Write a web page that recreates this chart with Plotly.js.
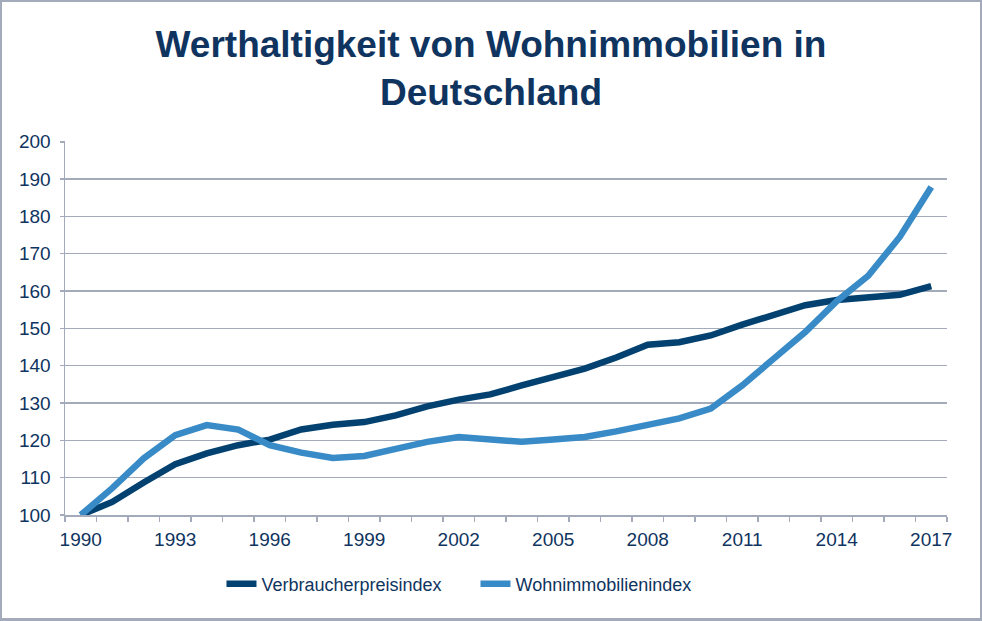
<!DOCTYPE html>
<html>
<head>
<meta charset="utf-8">
<script src="https://cdn.plot.ly/plotly-3.0.1.min.js"></script>
<style>
  html, body { margin: 0; padding: 0; background: #ffffff; }
  #frame { width: 982px; height: 621px; box-sizing: border-box; border: 2px solid #A3ABBA; border-bottom-width: 3px; }
  #chart { width: 978px; height: 616px; }
</style>
</head>
<body>
<div id="frame"><div id="chart"></div></div>
<script>
const years = [1990,1991,1992,1993,1994,1995,1996,1997,1998,1999,2000,2001,2002,2003,2004,2005,2006,2007,2008,2009,2010,2011,2012,2013,2014,2015,2016,2017];
const verbraucherpreisindex = [100,103.5,108.7,113.6,116.5,118.7,120.2,122.9,124.2,124.9,126.7,129.1,130.9,132.3,134.7,137.0,139.2,142.2,145.6,146.3,148.1,151.0,153.8,156.2,157.6,158.3,159.0,161.3];
const wohnimmobilienindex = [100,107.2,115.2,121.4,124.1,122.9,118.7,116.7,115.3,115.8,117.7,119.6,120.9,120.2,119.6,120.2,120.9,122.4,124.0,125.9,128.5,134.7,141.9,149.0,157.3,164.1,174.5,187.9];
const xTickYears = [1990,1993,1996,1999,2002,2005,2008,2011,2014,2017];
const yTicks = [100,110,120,130,140,150,160,170,180,190,200];
const seriesNames = ['Verbraucherpreisindex','Wohnimmobilienindex'];
const titleText = 'Werthaltigkeit von Wohnimmobilien in<br>Deutschland';

const navy = '#0F3460';
const grid = '#A3ABBA';

const traces = [
  { x: years, y: verbraucherpreisindex, name: seriesNames[0], type: 'scatter', mode: 'lines',
    line: { color: '#034270', width: 6.5 } },
  { x: years, y: wohnimmobilienindex, name: seriesNames[1], type: 'scatter', mode: 'lines',
    line: { color: '#398BC7', width: 6.5 } }
];

const layout = {
  width: 978, height: 616,
  paper_bgcolor: '#ffffff', plot_bgcolor: '#ffffff',
  margin: { l: 63, r: 33, t: 139, b: 103 },
  font: { family: 'Liberation Sans, Arial, sans-serif', color: navy },
  title: { text: titleText, x: 0.5, xref: 'container', xanchor: 'center',
           y: 1 - 55/616, yref: 'container', yanchor: 'top',
           font: { family: 'Liberation Sans, Arial, sans-serif', size: 37, color: navy, weight: 'bold' } },
  xaxis: {
    range: [1989.5, 2017.5], tickmode: 'array', tickvals: xTickYears, ticktext: xTickYears.map(String),
    ticks: '', showgrid: false, zeroline: false, showline: true, linecolor: grid, linewidth: 1.5,
    tickfont: { size: 19, color: navy }, ticklabelstandoff: 7,
    minor: { tick0: 1989.5, dtick: 1, ticks: 'outside', ticklen: 5, tickwidth: 1.5, tickcolor: grid, showgrid: false }
  },
  yaxis: {
    range: [100, 200.2], tickmode: 'array', tickvals: yTicks, ticktext: yTicks.map(String),
    ticks: 'outside', ticklen: 4, tickwidth: 1.5, tickcolor: grid,
    showgrid: true, gridcolor: grid, gridwidth: 1.5, zeroline: false,
    showline: true, linecolor: grid, linewidth: 1.5,
    tickfont: { size: 19, color: navy }, ticklabelstandoff: 5
  },
  showlegend: true,
  legend: { orientation: 'h', x: 0.4654, xanchor: 'center', y: -0.1845, yanchor: 'middle',
            entrywidth: 209, entrywidthmode: 'pixels',
            font: { size: 18, color: navy }, bgcolor: 'rgba(0,0,0,0)' }
};

Plotly.newPlot('chart', traces, layout, { displayModeBar: false, staticPlot: true });
</script>
</body>
</html>
